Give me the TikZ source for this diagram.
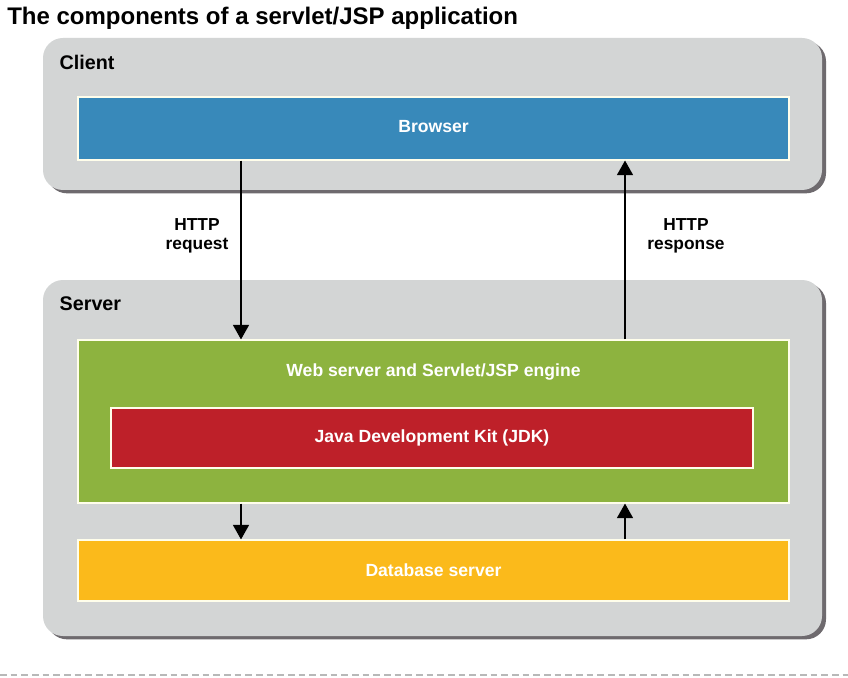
\documentclass[tikz,border=0pt]{standalone}
\usepackage{fontspec}
\setmainfont{Liberation Sans}
\usetikzlibrary{arrows.meta,shadows}
\definecolor{panelgray}{HTML}{D3D5D5}
\definecolor{shadowgray}{HTML}{6E6A6E}
\definecolor{browserblue}{HTML}{3889BA}
\definecolor{webgreen}{HTML}{8DB33F}
\definecolor{jdkred}{HTML}{BE2029}
\definecolor{dbyellow}{HTML}{FBBA1B}
\definecolor{dashgray}{HTML}{B8B8B8}
\tikzset{
  panel/.style={fill=panelgray, rounded corners=15pt, inner sep=0pt,
    drop shadow={shadow xshift=3pt, shadow yshift=-2.5pt, fill=shadowgray, opacity=1}},
  layer/.style={draw=white!92!yellow, line width=0.8pt, inner sep=0pt},
  whitetxt/.style={text=white, font=\bfseries\fontsize{13.2}{15}\selectfont},
  paneltxt/.style={text=black, font=\bfseries\fontsize{14.8}{17}\selectfont, anchor=west},
  lbl/.style={text=black, font=\bfseries\fontsize{13}{14.5}\selectfont, align=center},
  arr/.style={line width=1.3pt, -{Triangle[width=12pt,length=11pt]}, shorten >=0pt},
}
\begin{document}
\begin{tikzpicture}[x=0.75pt,y=-0.75pt]
\useasboundingbox[fill=white] (0,0) rectangle (848,677);
% title
\node[anchor=base west, inner sep=0pt, font=\bfseries\fontsize{18}{21}\selectfont] (title) at (7,25) {The components of a servlet/JSP application};
% panels
\node[panel, minimum width=584.25pt, minimum height=114pt] (client) at (432.5,114) {};
\node[panel, minimum width=584.25pt, minimum height=267pt] (server) at (432.5,458) {};
\node[paneltxt] (clientlbl) at (55,62) {Client};
\node[paneltxt] (serverlbl) at (55,304) {Server};
% layers
\node[layer, fill=browserblue, minimum width=533.25pt, minimum height=47.25pt] (browser) at (433.5,128.5) {};
\node[whitetxt] (browsertxt) at (433.5,127) {Browser};
\node[layer, fill=webgreen, minimum width=533.25pt, minimum height=122.25pt] (web) at (433.5,421.5) {};
\node[whitetxt] (webtxt) at (433.5,372) {Web server and Servlet/JSP engine};
\node[layer, fill=jdkred, minimum width=481.5pt, minimum height=45pt] (jdk) at (432,438) {};
\node[whitetxt] (jdktxt) at (432,438) {Java Development Kit (JDK)};
\node[layer, fill=dbyellow, minimum width=533.25pt, minimum height=45.75pt] (db) at (433.5,570.5) {};
\node[whitetxt] (dbtxt) at (433.5,570) {Database server};
% connector columns
\coordinate (reqx) at (241,0);
\coordinate (resx) at (625,0);
\draw[arr] (browser.south -| reqx) -- (web.north -| reqx);
\draw[arr] (web.north -| resx) -- (browser.south -| resx);
\draw[arr] (web.south -| reqx) -- (db.north -| reqx);
\draw[arr] (db.north -| resx) -- (web.south -| resx);
\node[lbl] (reqlbl) at (197,236) {HTTP\\request};
\node[lbl] (reslbl) at (686,236) {HTTP\\response};
% bottom dashed rule
\coordinate (dl) at (0,675);
\coordinate (dr) at (848,675);
\draw[dashgray, line width=0.8pt, dash pattern=on 5pt off 3pt] (dl) -- (dr);
\end{tikzpicture}
\end{document}
